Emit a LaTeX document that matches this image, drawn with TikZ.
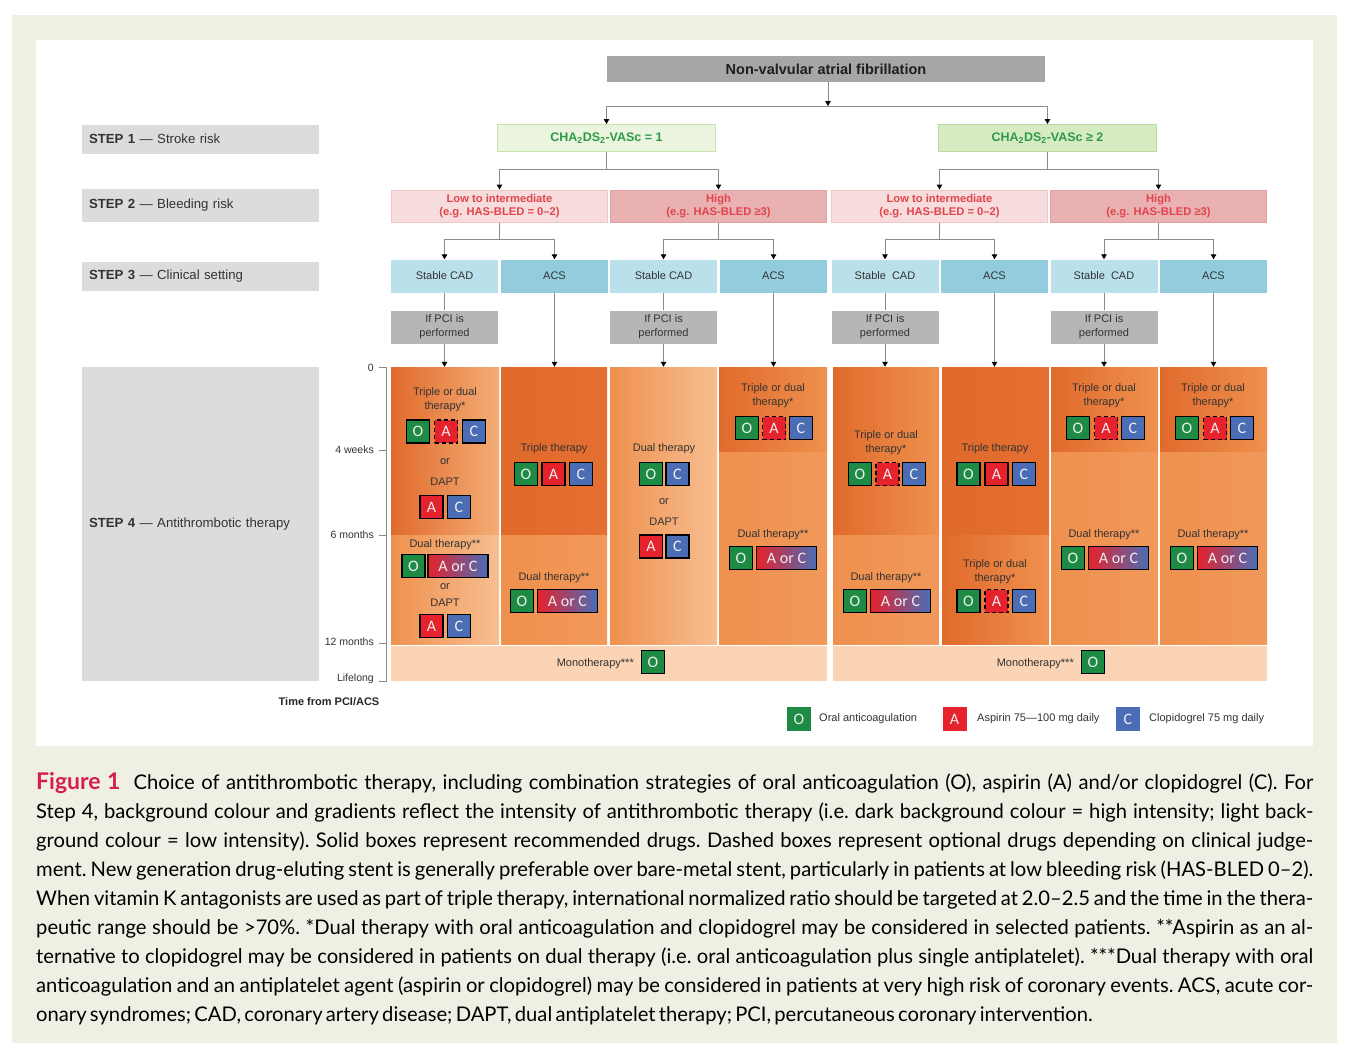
\documentclass[tikz,border=0pt]{standalone}
\usepackage{fontspec}
\setmainfont{Liberation Sans}
\newfontfamily\capfont{Lato}
\newfontfamily\boxfont{Carlito}
\usetikzlibrary{arrows.meta}

\definecolor{framebg}{HTML}{EFEFE3}
\definecolor{linegray}{HTML}{8A8A8A}
\definecolor{nvgray}{HTML}{A6A6A6}
\definecolor{stepgray}{HTML}{DCDCDC}
\definecolor{pcigray}{HTML}{B6B6B6}
\definecolor{txtdark}{HTML}{333333}
\definecolor{grnA}{HTML}{EAF4DF}
\definecolor{grnAline}{HTML}{C6E3B1}
\definecolor{grnB}{HTML}{D7EBC3}
\definecolor{grnBline}{HTML}{B8DB9F}
\definecolor{grntxt}{HTML}{2E9A48}
\definecolor{pnkA}{HTML}{F6DCDC}
\definecolor{pnkAline}{HTML}{F0C6C6}
\definecolor{pnkB}{HTML}{E9B1B2}
\definecolor{pnkBline}{HTML}{E4A1A3}
\definecolor{redtxt}{HTML}{E0454C}
\definecolor{cadblue}{HTML}{B9E0EB}
\definecolor{acsblue}{HTML}{92CCDD}
\definecolor{ogreen}{HTML}{1E8B45}
\definecolor{ared}{HTML}{E6222C}
\definecolor{cblue}{HTML}{4A6DB6}
\definecolor{mixpink}{HTML}{D23C9C}
\definecolor{boxtxt}{HTML}{EEEEEE}
\definecolor{monobg}{HTML}{FAD4B5}
\definecolor{figred}{HTML}{D71F4F}
% orange shades of the Step 4 panel
\definecolor{orD}{HTML}{E06A2C}
\definecolor{orD2}{HTML}{E46F30}
\definecolor{orM}{HTML}{EF914E}
\definecolor{orM2}{HTML}{F1985A}
\definecolor{orL}{HTML}{F7BE91}
\definecolor{orL2}{HTML}{F4AD76}

% one coloured band of a Step 4 column: name, x1, x2, y1, y2, left colour, right colour
\newcommand\band[7]{\node[bandbox, minimum width={#3-#2}, minimum height={#5-#4},
  left color=#6, right color=#7] (#1) at ({(#2+#3)/2},{(#4+#5)/2}) {};}
% a drug box: name, style, x, y, letter
\newcommand\drug[5]{\node[#2] (#1) at (#3,#4) {#5};}

\begin{document}
\begin{tikzpicture}[x=1pt,y=-1pt,
  ln/.style={draw=linegray, line width=1pt},
  arr/.style={ln, -{Triangle[length=5pt,width=5.5pt,color=black]}},
  nvbox/.style={fill=nvgray, minimum width=438pt, minimum height=26pt, inner sep=0pt,
    font=\bfseries\fontsize{14.5}{17}\selectfont, text=black!88},
  strokebox/.style={minimum width=218pt, minimum height=27pt, inner sep=0pt, line width=1pt,
    font=\bfseries\fontsize{12.5}{15}\selectfont, text=grntxt},
  bleedbox/.style={minimum width=216pt, minimum height=32pt, inner sep=0pt, line width=1pt,
    align=center, font=\bfseries\fontsize{11.2}{13.5}\selectfont, text=redtxt},
  setbox/.style={minimum width=107pt, minimum height=33pt, inner sep=0pt,
    font=\fontsize{11}{13}\selectfont, text=txtdark},
  pcibox/.style={fill=pcigray, minimum width=107pt, minimum height=33pt, inner sep=0pt,
    align=center, font=\fontsize{11}{14}\selectfont, text=txtdark},
  stepbox/.style={fill=stepgray, text width=223pt, inner xsep=7pt, inner ysep=0pt,
    align=left, font=\fontsize{13.2}{15}\selectfont, text=txtdark},
  bandbox/.style={inner sep=0pt, draw=none},
  monobox/.style={fill=monobg, inner sep=0pt, draw=none},
  ctext/.style={align=center, inner sep=0pt, font=\fontsize{11}{14}\selectfont, text=txtdark},
  tlabel/.style={anchor=east, inner sep=0pt, font=\fontsize{10.5}{12}\selectfont, text=txtdark},
  drugbox/.style={draw=black, line width=1.4pt, minimum width=23pt, minimum height=23pt,
    inner sep=0pt, text=boxtxt, font=\boxfont\fontsize{16}{18}\selectfont},
  dO/.style={drugbox, fill=ogreen},
  dA/.style={drugbox, fill=ared},
  dAopt/.style={drugbox, fill=ared, dash pattern=on 4pt off 3pt},
  dC/.style={drugbox, fill=cblue},
  dAC/.style={drugbox, minimum width=60pt, left color=ared, middle color=mixpink, right color=cblue},
  legbox/.style={minimum width=24pt, minimum height=24pt, inner sep=0pt, text=boxtxt,
    font=\boxfont\fontsize{16}{18}\selectfont},
  legtext/.style={anchor=west, inner sep=0pt, font=\fontsize{11}{13}\selectfont, text=txtdark},
]
\useasboundingbox (0,0) rectangle (1352,1060);
\fill[framebg] (12,15) rectangle (1337,1043);
\fill[white] (36,40) rectangle (1313,746);

% ---- Step labels
\node[stepbox, minimum height=29pt] (st1) at (200.5,139) {\textbf{STEP 1} --- Stroke risk};
\node[stepbox, minimum height=33pt] (st2) at (200.5,205) {\textbf{STEP 2} --- Bleeding risk};
\node[stepbox, minimum height=29pt] (st3) at (200.5,276.5) {\textbf{STEP 3} --- Clinical setting};
\node[stepbox, minimum height=314pt] (st4) at (200.5,524) {\textbf{STEP 4} --- Antithrombotic therapy};

% ---- Step 1: indication and stroke risk
\node[nvbox] (nv) at (826,69) {Non-valvular atrial fibrillation};
\node[strokebox, fill=grnA, draw=grnAline] (g1) at (606.5,138) {CHA\textsubscript{2}DS\textsubscript{2}-VASc = 1};
\node[strokebox, fill=grnB, draw=grnBline] (g2) at (1047.5,138) {CHA\textsubscript{2}DS\textsubscript{2}-VASc ≥ 2};

% ---- Step 2: bleeding risk
\node[bleedbox, fill=pnkA, draw=pnkAline] (b1) at (499.5,206) {Low to intermediate\\(e.g. HAS-BLED = 0–2)};
\node[bleedbox, fill=pnkB, draw=pnkBline] (b2) at (718.5,206) {High\\(e.g. HAS-BLED ≥3)};
\node[bleedbox, fill=pnkA, draw=pnkAline] (b3) at (939.5,206) {Low to intermediate\\(e.g. HAS-BLED = 0–2)};
\node[bleedbox, fill=pnkB, draw=pnkBline] (b4) at (1158.5,206) {High\\(e.g. HAS-BLED ≥3)};

% ---- Step 3: clinical setting
\node[setbox, fill=cadblue] (s1) at (444.5,276) {Stable CAD};
\node[setbox, fill=acsblue] (s2) at (554.5,276) {ACS};
\node[setbox, fill=cadblue] (s3) at (663.5,276) {Stable CAD};
\node[setbox, fill=acsblue] (s4) at (773.5,276) {ACS};
\node[setbox, fill=cadblue] (s5) at (885,276) {Stable\ \ CAD};
\node[setbox, fill=acsblue] (s6) at (994.5,276) {ACS};
\node[setbox, fill=cadblue] (s7) at (1104,276) {Stable\ \ CAD};
\node[setbox, fill=acsblue] (s8) at (1213.5,276) {ACS};

\node[pcibox] (p1) at (444.5,327) {If PCI is\\performed};
\node[pcibox] (p3) at (663.5,327) {If PCI is\\performed};
\node[pcibox] (p5) at (885,327) {If PCI is\\performed};
\node[pcibox] (p7) at (1104,327) {If PCI is\\performed};

% ---- Step 4: therapy bands
\band{k1t}{391}{499}{367}{535}{orD}{orL2}
\band{k1b}{391}{499}{535}{644}{orM}{orL}
\band{k2t}{501}{607}{367}{535}{orD}{orD2}
\band{k2b}{501}{607}{535}{644}{orM}{orM2}
\band{k3}{610}{717}{367}{644}{orM}{orL}
\band{k4t}{719}{827}{367}{452}{orD}{orM}
\band{k4b}{719}{827}{452}{644}{orM}{orM2}
\band{k5t}{833}{939}{367}{535}{orD}{orM}
\band{k5b}{833}{939}{535}{644}{orM}{orM2}
\band{k6t}{942}{1049}{367}{535}{orD}{orD2}
\band{k6b}{942}{1049}{535}{644}{orD}{orM}
\band{k7t}{1051}{1158}{367}{452}{orD}{orM}
\band{k7b}{1051}{1158}{452}{644}{orM}{orM2}
\band{k8t}{1160}{1267}{367}{452}{orD}{orM}
\band{k8b}{1160}{1267}{452}{644}{orM}{orM2}
\node[monobox, minimum width=436pt, minimum height=35pt] (m1) at (609,663.5) {};
\node[monobox, minimum width=434pt, minimum height=35pt] (m2) at (1050,663.5) {};

% ---- connectors
\coordinate (hj) at (828,106);
\draw[arr] (nv.south -| hj) -- (hj);
\draw[arr] (hj) -| (g1.north);
\draw[arr] (hj) -| (g2.north);
\draw[arr] (g1.south) -- ++(0,17) -| (b1.north);
\draw[arr] (g1.south) -- ++(0,17) -| (b2.north);
\draw[arr] (g2.south) -- ++(0,17) -| (b3.north);
\draw[arr] (g2.south) -- ++(0,17) -| (b4.north);
\draw[arr] (b1.south) -- ++(0,17) -| (s1.north);
\draw[arr] (b1.south) -- ++(0,17) -| (s2.north);
\draw[arr] (b2.south) -- ++(0,17) -| (s3.north);
\draw[arr] (b2.south) -- ++(0,17) -| (s4.north);
\draw[arr] (b3.south) -- ++(0,17) -| (s5.north);
\draw[arr] (b3.south) -- ++(0,17) -| (s6.north);
\draw[arr] (b4.south) -- ++(0,17) -| (s7.north);
\draw[arr] (b4.south) -- ++(0,17) -| (s8.north);
\draw[ln] (s1.south) -- (p1.north);
\draw[ln] (s3.south) -- (p3.north);
\draw[ln] (s5.south) -- (p5.north);
\draw[ln] (s7.south) -- (p7.north);
\draw[arr] (p1.south) -- (p1.south |- k1t.north);
\draw[arr] (s2.south) -- (s2.south |- k2t.north);
\draw[arr] (p3.south) -- (p3.south |- k3.north);
\draw[arr] (s4.south) -- (s4.south |- k4t.north);
\draw[arr] (p5.south) -- (p5.south |- k5t.north);
\draw[arr] (s6.south) -- (s6.south |- k6t.north);
\draw[arr] (p7.south) -- (p7.south |- k7t.north);
\draw[arr] (s8.south) -- (s8.south |- k8t.north);

% ---- time axis
\draw[ln] (379,367) -- (386,367) -- (386,681) -- (379,681);
\foreach \ty in {450,535,643} \draw[ln] (379,\ty) -- (386,\ty);
\node[tlabel] (t0) at (374,368) {0};
\node[tlabel] (t1) at (374,450) {4 weeks};
\node[tlabel] (t2) at (374,535) {6 months};
\node[tlabel] (t3) at (374,642) {12 months};
\node[tlabel] (t4) at (374,679) {Lifelong};
\node[inner sep=0pt, font=\bfseries\fontsize{11}{13}\selectfont, text=black!85] (tt) at (329,702) {Time from PCI/ACS};

% ---- column 1: stable CAD, low bleeding risk
\node[ctext] (x1a) at (445,400) {Triple or dual\\therapy*};
\drug{c1o}{dO}{418}{431.5}{O}
\drug{c1a}{dAopt}{446}{431.5}{A}
\drug{c1c}{dC}{474}{431.5}{C}
\node[ctext] (x1b) at (445,462) {or};
\node[ctext] (x1c) at (445,482) {DAPT};
\drug{c1a2}{dA}{431.5}{507}{A}
\drug{c1c2}{dC}{459}{507}{C}
\node[ctext] (x1d) at (445,545) {Dual therapy**};
\drug{c1o3}{dO}{413.5}{566}{O}
\node[dAC] (c1ac) at (458,566) {A or C};
\node[ctext] (x1e) at (445,587) {or};
\node[ctext] (x1f) at (445,603) {DAPT};
\drug{c1a4}{dA}{431.5}{626}{A}
\drug{c1c4}{dC}{459}{626}{C}

% ---- column 2: ACS, low bleeding risk
\node[ctext] (x2a) at (554,449) {Triple therapy};
\drug{c2o}{dO}{526}{474}{O}
\drug{c2a}{dA}{553.5}{474}{A}
\drug{c2c}{dC}{581}{474}{C}
\node[ctext] (x2b) at (554,578) {Dual therapy**};
\drug{c2o2}{dO}{522}{601}{O}
\node[dAC] (c2ac) at (567.5,601) {A or C};

% ---- column 3: stable CAD, high bleeding risk
\node[ctext] (x3a) at (664,449) {Dual therapy};
\drug{c3o}{dO}{651}{474}{O}
\drug{c3c}{dC}{677.5}{474}{C}
\node[ctext] (x3b) at (664,502) {or};
\node[ctext] (x3c) at (664,522) {DAPT};
\drug{c3a2}{dA}{651}{546.5}{A}
\drug{c3c2}{dC}{677.5}{546.5}{C}

% ---- column 4: ACS, high bleeding risk
\node[ctext] (x4a) at (773,396) {Triple or dual\\therapy*};
\drug{c4o}{dO}{747}{428}{O}
\drug{c4a}{dAopt}{774}{428}{A}
\drug{c4c}{dC}{801}{428}{C}
\node[ctext] (x4b) at (773,535) {Dual therapy**};
\drug{c4o2}{dO}{741}{558}{O}
\node[dAC] (c4ac) at (786.5,558) {A or C};

% ---- column 5: stable CAD, low bleeding risk
\node[ctext] (x5a) at (886,442.5) {Triple or dual\\therapy*};
\drug{c5o}{dO}{860}{474}{O}
\drug{c5a}{dAopt}{887.5}{474}{A}
\drug{c5c}{dC}{914}{474}{C}
\node[ctext] (x5b) at (886,578) {Dual therapy**};
\drug{c5o2}{dO}{855}{601}{O}
\node[dAC] (c5ac) at (900.5,601) {A or C};

% ---- column 6: ACS, low bleeding risk
\node[ctext] (x6a) at (995,449) {Triple therapy};
\drug{c6o}{dO}{968.5}{474}{O}
\drug{c6a}{dA}{996.5}{474}{A}
\drug{c6c}{dC}{1024}{474}{C}
\node[ctext] (x6b) at (995,572) {Triple or dual\\therapy*};
\drug{c6o2}{dO}{968.5}{601}{O}
\drug{c6a2}{dAopt}{996.5}{601}{A}
\drug{c6c2}{dC}{1024}{601}{C}

% ---- column 7: stable CAD, high bleeding risk
\node[ctext] (x7a) at (1104,396) {Triple or dual\\therapy*};
\drug{c7o}{dO}{1078}{428}{O}
\drug{c7a}{dAopt}{1106}{428}{A}
\drug{c7c}{dC}{1133}{428}{C}
\node[ctext] (x7b) at (1104,535) {Dual therapy**};
\drug{c7o2}{dO}{1073}{558}{O}
\node[dAC] (c7ac) at (1118.5,558) {A or C};

% ---- column 8: ACS, high bleeding risk
\node[ctext] (x8a) at (1213,396) {Triple or dual\\therapy*};
\drug{c8o}{dO}{1187}{428}{O}
\drug{c8a}{dAopt}{1215}{428}{A}
\drug{c8c}{dC}{1242}{428}{C}
\node[ctext] (x8b) at (1213,535) {Dual therapy**};
\drug{c8o2}{dO}{1182}{558}{O}
\node[dAC] (c8ac) at (1227.5,558) {A or C};

% ---- lifelong monotherapy
\node[ctext, anchor=east] (mt1) at (634,664) {Monotherapy***};
\drug{m1o}{dO}{653}{662}{O}
\node[ctext, anchor=east] (mt2) at (1074,664) {Monotherapy***};
\drug{m2o}{dO}{1093}{662}{O}

% ---- legend
\node[legbox, fill=ogreen] (lo) at (799,719) {O};
\node[legtext] (lot) at (819,719) {Oral anticoagulation};
\node[legbox, fill=ared] (la) at (954.5,719) {A};
\node[legtext] (lat) at (977,719) {Aspirin 75---100 mg daily};
\node[legbox, fill=cblue] (lc) at (1128,719) {C};
\node[legtext] (lct) at (1149,719) {Clopidogrel 75 mg daily};

% ---- caption
\node[anchor=north west, inner sep=0pt, text width=1277pt, align=justify,
  font=\capfont\fontsize{20.2}{29}\selectfont] (cap) at (36,772) {%
\hyphenpenalty=10000\exhyphenpenalty=10000\frenchspacing
\spaceskip=0.16em plus 0.6em minus 0.07em
{\color{figred}\bfseries\fontsize{23}{29}\selectfont Figure 1}\hspace{13pt}Choice of antithrombotic therapy, including combination strategies of oral anticoagulation (O), aspirin (A) and/or clopidogrel (C). For\linebreak
Step 4, background colour and gradients reflect the intensity of antithrombotic therapy (i.e. dark background colour = high intensity; light back-\linebreak
ground colour = low intensity). Solid boxes represent recommended drugs. Dashed boxes represent optional drugs depending on clinical judge-\linebreak
ment. New generation drug-eluting stent is generally preferable over bare-metal stent, particularly in patients at low bleeding risk (HAS-BLED 0–2).\linebreak
When vitamin K antagonists are used as part of triple therapy, international normalized ratio should be targeted at 2.0–2.5 and the time in the thera-\linebreak
peutic range should be >70\%. *Dual therapy with oral anticoagulation and clopidogrel may be considered in selected patients. **Aspirin as an al-\linebreak
ternative to clopidogrel may be considered in patients on dual therapy (i.e. oral anticoagulation plus single antiplatelet). ***Dual therapy with oral\linebreak
anticoagulation and an antiplatelet agent (aspirin or clopidogrel) may be considered in patients at very high risk of coronary events. ACS, acute cor-\linebreak
onary syndromes; CAD, coronary artery disease; DAPT, dual antiplatelet therapy; PCI, percutaneous coronary intervention.};
\end{tikzpicture}
\end{document}
